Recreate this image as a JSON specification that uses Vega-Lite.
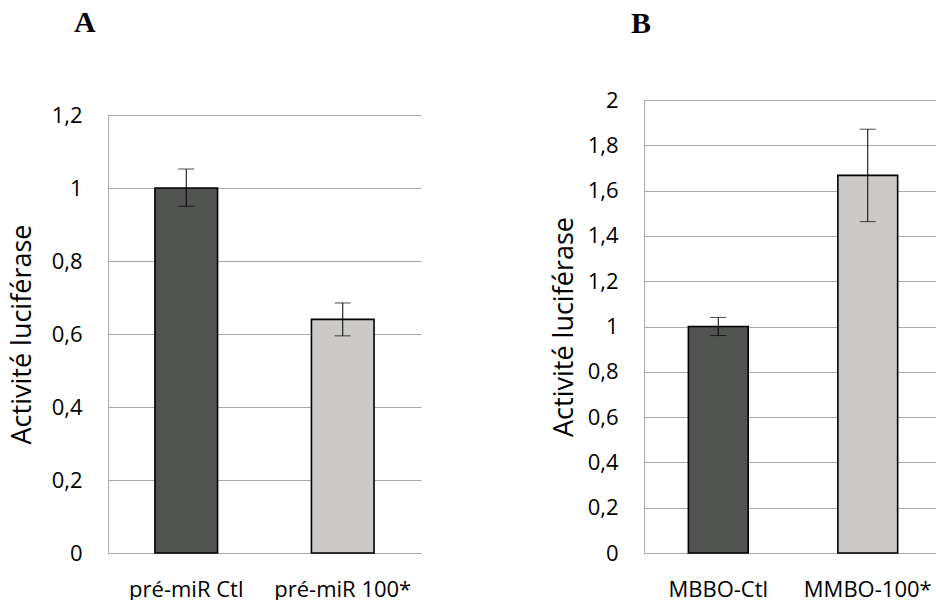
{
  "$schema": "https://vega.github.io/schema/vega-lite/v6.json",
  "padding": {"left": 8, "top": 8, "right": 0, "bottom": 0},
  "spacing": 129,
  "background": "white",
  "config": {
    "view": {"stroke": null},
    "font": "Open Sans",
    "axis": {"labelFont": "Open Sans", "titleFont": "Open Sans", "labelColor": "black", "titleColor": "black", "titleFontWeight": "normal"}
  },
  "hconcat": [
    {
      "width": 313,
      "height": 453,
      "title": {"text": "A", "font": "Liberation Serif", "fontWeight": "bold", "fontSize": 30, "anchor": "start", "frame": "group", "dx": -34, "offset": 62, "color": "black"},
      "data": {"values": [
        {"group": "pré-miR Ctl", "value": 1.0, "lo": 0.95, "hi": 1.052},
        {"group": "pré-miR 100*", "value": 0.64, "lo": 0.595, "hi": 0.685}
      ]},
      "encoding": {
        "x": {"field": "group", "type": "nominal", "sort": null,
          "scale": {"paddingInner": 0.6, "paddingOuter": 0.3},
          "axis": {"title": null, "labelAngle": 0, "labelFontSize": 22, "labelPadding": 26, "ticks": false, "domainColor": "#A9A9A9", "domainWidth": 1}}
      },
      "layer": [
        {
          "mark": {"type": "bar", "stroke": "black", "strokeWidth": 1.6},
          "encoding": {
            "y": {"field": "value", "type": "quantitative",
              "scale": {"domain": [0, 1.2], "nice": false, "range": [453, 15]},
              "axis": {"title": "Activité luciférase", "titleFontSize": 27, "titlePadding": 15, "labelFontSize": 22, "labelPadding": 26, "ticks": false,
                "values": [0, 0.2, 0.4, 0.6, 0.8, 1, 1.2],
                "labelExpr": "replace(format(datum.value, '~g'), '.', ',')",
                "grid": true, "gridColor": "#A9A9A9", "gridWidth": 1, "domainColor": "#A9A9A9", "domainWidth": 1}},
            "color": {"field": "group", "type": "nominal", "sort": null, "legend": null,
              "scale": {"domain": ["pré-miR Ctl", "pré-miR 100*"], "range": ["#525452", "#CBCAC8"]}}
          }
        },
        {
          "mark": {"type": "rule", "color": "black", "strokeWidth": 1},
          "encoding": {"y": {"field": "lo", "type": "quantitative"}, "y2": {"field": "hi"}}
        },
        {
          "mark": {"type": "tick", "color": "black", "size": 16, "thickness": 1},
          "encoding": {"y": {"field": "lo", "type": "quantitative"}}
        },
        {
          "mark": {"type": "tick", "color": "black", "size": 16, "thickness": 1},
          "encoding": {"y": {"field": "hi", "type": "quantitative"}}
        }
      ]
    },
    {
      "width": 293,
      "height": 453,
      "title": {"text": "B", "font": "Liberation Serif", "fontWeight": "bold", "fontSize": 30, "anchor": "start", "frame": "group", "dx": -13, "offset": 50, "color": "black"},
      "data": {"values": [
        {"group": "MBBO-Ctl", "value": 1.0, "lo": 0.96, "hi": 1.04},
        {"group": "MMBO-100*", "value": 1.667, "lo": 1.463, "hi": 1.871}
      ]},
      "encoding": {
        "x": {"field": "group", "type": "nominal", "sort": null,
          "scale": {"paddingInner": 0.6, "paddingOuter": 0.28, "align": 0.53},
          "axis": {"title": null, "labelAngle": 0, "labelFontSize": 22, "labelPadding": 26, "ticks": false, "domainColor": "#A9A9A9", "domainWidth": 1}}
      },
      "layer": [
        {
          "mark": {"type": "bar", "stroke": "black", "strokeWidth": 1.6},
          "encoding": {
            "y": {"field": "value", "type": "quantitative",
              "scale": {"domain": [0, 2], "nice": false},
              "axis": {"title": "Activité luciférase", "titleFontSize": 27, "titlePadding": 9, "labelFontSize": 22, "labelPadding": 26, "ticks": false,
                "values": [0, 0.2, 0.4, 0.6, 0.8, 1, 1.2, 1.4, 1.6, 1.8, 2],
                "labelExpr": "replace(format(datum.value, '~g'), '.', ',')",
                "grid": true, "gridColor": "#A9A9A9", "gridWidth": 1, "domainColor": "#A9A9A9", "domainWidth": 1}},
            "color": {"field": "group", "type": "nominal", "sort": null, "legend": null,
              "scale": {"domain": ["MBBO-Ctl", "MMBO-100*"], "range": ["#525452", "#CBCAC8"]}}
          }
        },
        {
          "mark": {"type": "rule", "color": "black", "strokeWidth": 1},
          "encoding": {"y": {"field": "lo", "type": "quantitative"}, "y2": {"field": "hi"}}
        },
        {
          "mark": {"type": "tick", "color": "black", "size": 16, "thickness": 1},
          "encoding": {"y": {"field": "lo", "type": "quantitative"}}
        },
        {
          "mark": {"type": "tick", "color": "black", "size": 16, "thickness": 1},
          "encoding": {"y": {"field": "hi", "type": "quantitative"}}
        }
      ]
    }
  ]
}
